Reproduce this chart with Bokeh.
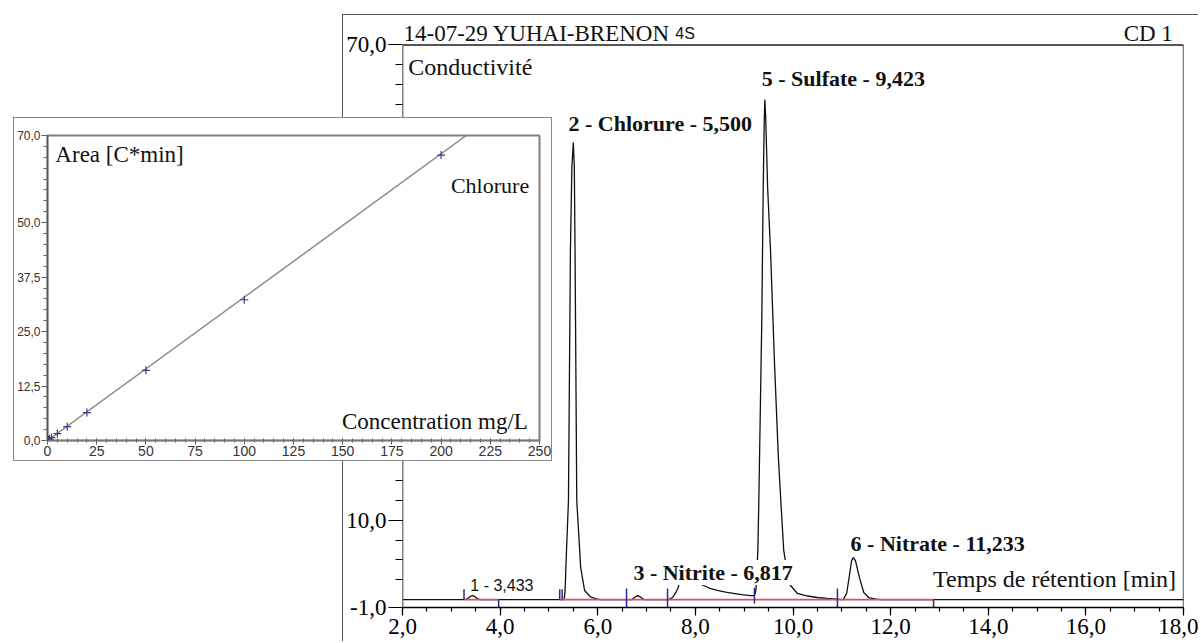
from bokeh.plotting import figure
from bokeh.models import Range1d, FixedTicker, CustomJSTickFormatter, ColumnDataSource
from bokeh.layouts import column
from bokeh.core.properties import value
from bokeh.embed import file_html
from bokeh.resources import INLINE

SERIF = "Liberation Serif"
SANS = "Liberation Sans"

# ---------------- chromatogram (conductivity vs retention time) ----------------
retention_time = [2.0, 3.26, 3.33, 3.39, 3.433, 3.48, 3.54, 3.60,
                  5.31, 5.33, 5.36, 5.40, 5.44, 5.47, 5.50, 5.52, 5.535, 5.57, 5.61, 5.65, 5.73, 5.85, 5.97, 6.05,
                  6.70, 6.76, 6.817, 6.88, 6.95,
                  7.45, 7.53, 7.60, 7.64, 7.68, 7.75, 7.85, 7.95, 8.05, 8.17, 8.30, 8.45, 8.62, 8.78, 8.95, 9.13, 9.21,
                  9.24, 9.28, 9.30, 9.36, 9.39, 9.41, 9.423, 9.44, 9.48, 9.54, 9.62, 9.70, 9.75, 9.81, 9.92,
                  10.09, 10.30, 10.50, 10.70, 10.90, 11.00,
                  11.03, 11.10, 11.15, 11.20, 11.233, 11.28, 11.36, 11.45, 11.55, 11.70, 11.80, 18.0]
conductivity = [0.0, 0.0, 0.1, 0.4, 0.5, 0.4, 0.1, 0.0,
                0.0, 1.0, 6.2, 12.5, 44.0, 54.6, 57.7, 54.6, 44.0, 12.5, 8.3, 4.05, 1.15, 0.35, 0.1, 0.0,
                0.0, 0.3, 0.5, 0.3, 0.0,
                0.0, 0.26, 0.9, 1.4, 2.2, 2.8, 3.0, 2.6, 2.1, 1.78, 1.4, 1.15, 0.95, 0.77, 0.62, 0.5, 0.5,
                1.15, 6.2, 12.5, 35.0, 52.0, 60.0, 63.1, 61.0, 52.0, 44.0, 30.0, 18.0, 12.5, 6.2, 2.0,
                0.77, 0.45, 0.26, 0.14, 0.05, 0.0,
                0.0, 0.8, 2.8, 4.9, 5.3, 4.9, 2.8, 0.9, 0.26, 0.05, 0.0, 0.0]

# integration baselines (red) and peak delimiters (blue)
baseline_start = [3.26, 5.22]
baseline_end = [3.97, 12.88]
baseline_level = [0.0, 0.0]
delimiter_t = [3.26, 3.97, 5.22, 5.27, 6.59, 7.43, 9.21, 10.91, 12.88]
delimiter_lo = [0.0, -1.0, 0.0, 0.0, -1.0, -1.0, -0.5, -1.0, -1.0]
delimiter_hi = [1.3, 0.0, 1.3, 1.3, 1.4, 1.4, 1.5, 1.4, 0.0]

# peak annotations
peak_text = ["2 - Chlorure  - 5,500", "3 - Nitrite - 6,817", "5 - Sulfate - 9,423", "6 - Nitrate - 11,233"]
peak_label_x = [5.40, 6.73, 9.36, 11.18]
peak_label_y = [60.15, 3.42, 65.8, 7.09]
peak_label_bg = [0.0, 1.0, 0.0, 0.0]
small_peak_text = ["1 - 3,433"]
small_peak_x = [3.39]
small_peak_y = [1.78]

time_min, time_max = 2.0, 18.0
cond_min, cond_max = -1.0, 70.0
main_x_ticks = [2, 4, 6, 8, 10, 12, 14, 16, 18]
main_x_minor = [2 + 0.5 * i for i in range(33)]
main_y_ticks = [-1, 10, 20, 30, 40, 50, 60, 70]
main_y_minor = [2.5 * i for i in range(1, 28)]

# ---------------- calibration curve (inset) ----------------
cal_conc = [0.5, 1, 2, 5, 10, 20, 50, 100, 200]
cal_area = [0.16, 0.33, 0.66, 1.6, 3.2, 6.4, 16.1, 32.3, 65.5]
fit_conc = [0.0, 212.8]
fit_area = [0.0, 70.0]
cal_x_ticks = [0, 25, 50, 75, 100, 125, 150, 175, 200, 225, 250]
cal_x_minor = [5 * i for i in range(51)]
cal_y_ticks = [0, 12.5, 25, 37.5, 50, 70]
cal_y_minor = [2.5 * i for i in range(29)]

comma_fmt = CustomJSTickFormatter(code="return tick.toFixed(1).replace('.', ',');")
int_fmt = CustomJSTickFormatter(code="return tick.toFixed(0);")

# ================= main chromatogram figure =================
# frame extends to the top of the panel so the header text lives inside it;
# the wrapper clips the panel at the window bottom
main = figure(width=855, height=652, x_range=Range1d(time_min, time_max), y_range=Range1d(cond_min, 73.72),
              output_backend="svg", toolbar_location=None,
              min_border_left=58, min_border_right=15, min_border_top=0, min_border_bottom=60,
              styles={"min-height": "652px", "flex-shrink": "0"})
main.xgrid.visible = False
main.ygrid.visible = False
main.background_fill_color = "white"
main.border_fill_color = "white"
main.outline_line_color = None

for ax in (main.xaxis[0], main.yaxis[0]):
    ax.axis_line_color = "black"
    ax.axis_line_width = 1.3
    ax.major_tick_line_color = "black"
    ax.minor_tick_line_color = "black"
    ax.major_tick_line_width = 1.2
    ax.minor_tick_line_width = 1.2
    ax.major_tick_in = 0
    ax.minor_tick_in = 0
    ax.major_label_text_font = SERIF
    ax.major_label_text_font_size = "23px"
    ax.major_label_text_color = "black"
    ax.formatter = comma_fmt

main.xaxis[0].ticker = FixedTicker(ticks=main_x_ticks, minor_ticks=main_x_minor)
main.xaxis[0].major_tick_out = 8
main.xaxis[0].minor_tick_out = 4
main.xaxis[0].major_label_standoff = 3
main.yaxis[0].ticker = FixedTicker(ticks=main_y_ticks, minor_ticks=main_y_minor)
main.yaxis[0].axis_line_color = None
main.yaxis[0].major_tick_out = 14
main.yaxis[0].minor_tick_out = 7
main.yaxis[0].major_label_standoff = 2

# plot box: y axis line, top line and right line (only up to 70)
main.segment(x0=[time_min], y0=[cond_min], x1=[time_min], y1=[cond_max], line_color="black", line_width=1.5)
main.segment(x0=[time_min], y0=[cond_max], x1=[time_max], y1=[cond_max], line_color="#555555", line_width=2)
main.segment(x0=[time_max], y0=[cond_min], x1=[time_max], y1=[cond_max], line_color="black", line_width=1.3)

main.line(retention_time, conductivity, line_color="#111111", line_width=1.3)
main.segment(x0=baseline_start, y0=baseline_level, x1=baseline_end, y1=baseline_level,
             line_color="#d05565", line_width=1.8)
main.segment(x0=delimiter_t, y0=delimiter_lo, x1=delimiter_t, y1=delimiter_hi,
             line_color="#2b2b86", line_width=1.5)

lbl_src = ColumnDataSource(dict(x=peak_label_x, y=peak_label_y, text=peak_text, bg=peak_label_bg))
main.text(x="x", y="y", text="text", source=lbl_src, text_font=value(SERIF),
          text_font_style="bold", text_font_size="22px", text_color="#111111",
          text_align="left", text_baseline="middle",
          background_fill_color="white", background_fill_alpha="bg")
main.text(x=small_peak_x, y=small_peak_y, text=small_peak_text, text_font=value(SANS),
          text_font_size="16px", text_color="#111111", text_align="left", text_baseline="middle")

main.text(x=[17.97], y=[2.66], text=["Temps de rétention  [min]"], text_font=value(SERIF),
          text_font_size="24px", text_color="#111111", text_align="right", text_baseline="middle")
main.text(x=[2.12], y=[67.2], text=["Conductivité"], text_font=value(SERIF),
          text_font_size="24px", text_color="#111111", text_align="left", text_baseline="middle")
main.text(x=[2.02], y=[71.5], text=["14-07-29  YUHAI-BRENON"], text_font=value(SERIF),
          text_font_size="23px", text_color="#111111", text_align="left", text_baseline="middle")
main.text(x=[7.59], y=[71.5], text=["4S"], text_font=value(SANS),
          text_font_size="16px", text_color="#111111", text_align="left", text_baseline="middle")
main.text(x=[17.9], y=[71.5], text=["CD  1"], text_font=value(SERIF),
          text_font_size="23px", text_color="#111111", text_align="right", text_baseline="middle")

main_panel = column(main, styles={"position": "absolute", "left": "342px", "top": "14px",
                                  "max-height": "627px", "overflow": "hidden",
                                  "border-left": "1.5px solid #555555",
                                  "border-top": "1.5px solid #555555", "z-index": "1"})

# ================= calibration inset figure =================
inset = figure(width=539, height=344, x_range=Range1d(0, 250), y_range=Range1d(0, 70),
               output_backend="svg", toolbar_location=None,
               min_border_left=31, min_border_right=14, min_border_top=17, min_border_bottom=22,
               styles={"position": "absolute", "left": "13px", "top": "117px",
                       "border": "1.5px solid #8a8a8a", "z-index": "2",
                       "background-color": "white"})
inset.xgrid.visible = False
inset.ygrid.visible = False
inset.background_fill_color = "white"
inset.border_fill_color = "white"
inset.outline_line_color = "#808080"
inset.outline_line_width = 2

for ax in (inset.xaxis[0], inset.yaxis[0]):
    ax.axis_line_color = "#555555"
    ax.axis_line_width = 1.5
    ax.major_tick_line_color = "#555555"
    ax.minor_tick_line_color = "#666666"
    ax.major_label_text_font = SANS
    ax.major_label_text_color = "#333333"

inset.xaxis[0].ticker = FixedTicker(ticks=cal_x_ticks, minor_ticks=cal_x_minor)
inset.xaxis[0].formatter = int_fmt
inset.xaxis[0].major_label_text_font_size = "14px"
inset.xaxis[0].major_label_standoff = 1
inset.xaxis[0].major_tick_out = 4
inset.xaxis[0].major_tick_in = 2
inset.xaxis[0].minor_tick_out = 2
inset.xaxis[0].minor_tick_in = 2
inset.xaxis[0].axis_line_color = "#777777"
inset.yaxis[0].ticker = FixedTicker(ticks=cal_y_ticks, minor_ticks=cal_y_minor)
inset.yaxis[0].formatter = comma_fmt
inset.yaxis[0].major_label_text_font_size = "12px"
inset.yaxis[0].major_label_standoff = 1
inset.yaxis[0].major_tick_out = 6
inset.yaxis[0].major_tick_in = 0
inset.yaxis[0].minor_tick_out = 4
inset.yaxis[0].minor_tick_in = 0

inset.line(fit_conc, fit_area, line_color="#8a8a8a", line_width=1.5)
inset.scatter(cal_conc, cal_area, marker="cross", size=8, line_color="#3a3a8c", line_width=1.2)

inset.text(x=[4], y=[65.6], text=["Area  [C*min]"], text_font=value(SERIF), text_font_size="23px",
           text_color="#111111", text_align="left", text_baseline="middle")
inset.text(x=[205], y=[58.5], text=["Chlorure"], text_font=value(SERIF), text_font_size="22px",
           text_color="#111111", text_align="left", text_baseline="middle")
inset.text(x=[247], y=[4.4], text=["Concentration  mg/L"], text_font=value(SERIF), text_font_size="23px",
           text_color="#111111", text_align="right", text_baseline="middle")

p = [main_panel, inset]
open("out.html", "w").write(file_html(p, INLINE))
